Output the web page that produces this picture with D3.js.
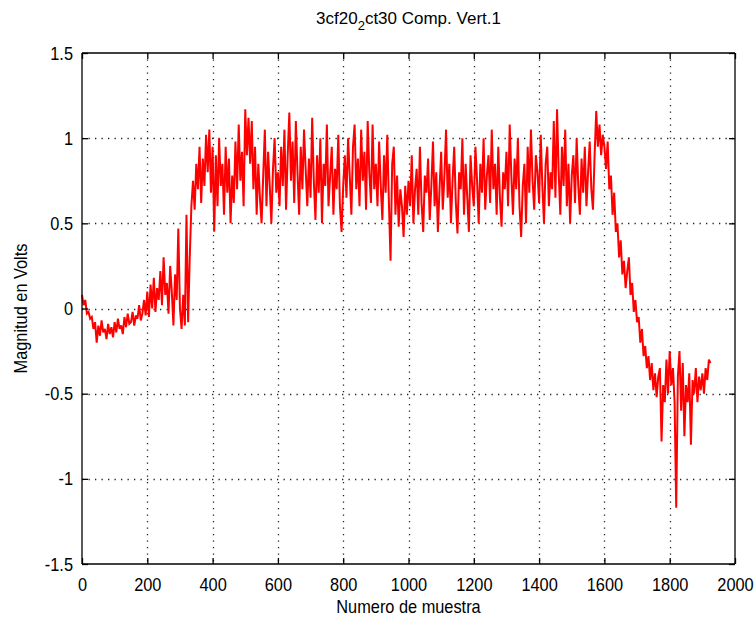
<!DOCTYPE html>
<html>
<head>
<meta charset="utf-8">
<script src="https://cdn.jsdelivr.net/npm/d3@7"></script>
<style>
html,body{margin:0;padding:0;background:#fff;}
svg{display:block;}
text{font-family:"Liberation Sans",Arial,Helvetica,sans-serif;fill:#000;}
</style>
</head>
<body>
<svg id="chart" width="755" height="618"></svg>
<script>
// ---- data (sampled every 5 samples) ----
const sampleStep = 5;
const seg0 = [0.08,0.02,0.05,-0.03,-0.02,-0.06,-0.05,-0.12,-0.08,-0.2,-0.1,-0.16,-0.07,-0.14,-0.12,-0.18,-0.09,-0.15,-0.11,-0.17];
const seg1 = [-0.08,-0.14,-0.06,-0.12,-0.1,-0.15,-0.05,-0.11,-0.03,-0.09,-0.08,-0.02,-0.1,-0.04,-0.06,0.02,-0.07,-0.03,0.05,-0.04];
const seg2 = [0.1,-0.05,0.14,0.0,0.18,-0.02,0.12,0.05,0.22,0.02,0.3,0.08,0.15,-0.03,0.25,0.1,-0.1,0.2,0.05,0.47];
const seg3 = [0.0,-0.12,0.08,-0.1,0.55,-0.08,0.3,0.6,0.75,0.58,0.85,0.7,0.95,0.62,0.88,0.72,1.02,0.8,1.05,0.68];
const seg4 = [0.95,0.45,0.9,0.6,1.0,0.72,0.85,0.55,0.95,0.68,0.88,0.5,0.78,0.62,0.98,0.7,1.08,0.75,0.92,0.6];
const seg5 = [1.17,0.9,1.12,0.85,1.1,0.7,0.95,0.55,0.85,0.65,0.5,0.78,1.05,0.6,0.92,0.72,0.5,0.82,1.0,0.68];
const seg6 = [0.8,0.6,0.95,0.72,1.05,0.58,0.9,1.15,0.75,0.98,0.62,1.1,0.8,0.55,0.95,0.7,1.05,0.82,0.6,0.88];
const seg7 = [0.65,1.12,0.75,0.52,0.9,0.68,1.0,0.5,0.85,0.72,1.08,0.6,0.78,0.95,0.55,0.82,0.7,1.02,0.6,0.45];
const seg8 = [0.72,0.9,0.65,1.0,0.78,0.55,0.95,1.08,0.7,0.88,0.6,1.05,0.75,0.92,0.58,1.1,0.8,0.62,1.08,0.7];
const seg9 = [0.85,0.6,0.98,0.72,0.52,0.9,0.68,1.02,0.62,0.28,0.85,0.95,0.55,0.78,0.48,0.7,0.6,0.42,0.72,0.55];
const seg10 = [0.75,0.6,0.9,0.5,0.7,0.82,0.55,0.95,0.62,0.45,0.78,0.68,0.88,0.52,0.72,0.98,0.6,0.8,0.45,0.7];
const seg11 = [0.92,0.58,0.78,1.05,0.65,0.85,0.5,0.75,0.95,0.62,0.44,0.8,0.7,1.0,0.55,0.85,0.65,0.45,0.9,0.72];
const seg12 = [0.6,0.95,0.75,0.5,0.85,0.68,1.0,0.58,0.78,0.9,0.62,1.05,0.7,0.85,0.55,0.95,0.65,0.48,0.8,0.7];
const seg13 = [0.92,0.6,1.08,0.78,0.55,0.88,0.7,1.0,0.6,0.42,0.72,0.85,0.5,0.95,0.68,1.05,0.75,0.58,0.9,0.8];
const seg14 = [0.62,1.02,0.72,0.5,0.85,0.95,0.6,0.8,0.7,1.1,0.65,1.17,0.8,0.55,0.95,0.72,1.05,0.6,0.85,0.5];
const seg15 = [0.78,0.9,0.62,1.0,0.72,0.55,0.88,0.68,0.95,0.6,0.8,0.98,0.7,0.58,0.9,1.16,0.95,1.08,0.9,1.02];
const seg16 = [0.95,0.82,0.98,0.7,0.78,0.55,0.68,0.45,0.5,0.3,0.4,0.2,0.28,0.12,0.22,0.3,0.08,0.15,-0.02,0.05];
const seg17 = [-0.08,-0.05,-0.2,-0.12,-0.28,-0.22,-0.35,-0.28,-0.42,-0.32,-0.48,-0.38,-0.52,-0.4,-0.35,-0.78,-0.45,-0.55,-0.3,-0.5];
const seg18 = [-0.25,-0.45,-0.35,-0.55,-1.17,-0.4,-0.25,-0.6,-0.32,-0.75,-0.45,-0.55,-0.38,-0.8,-0.42,-0.5,-0.35,-0.55,-0.4,-0.48];
const seg19 = [-0.38,-0.5,-0.35,-0.42,-0.3,-0.32];
const values = [].concat(seg0,seg1,seg2,seg3,seg4,seg5,seg6,seg7,seg8,seg9,seg10,seg11,seg12,seg13,seg14,seg15,seg16,seg17,seg18,seg19);

const xTicks = [0,200,400,600,800,1000,1200,1400,1600,1800,2000];
const yTicks = [-1.5,-1,-0.5,0,0.5,1,1.5];
const titleMain = "3cf20", titleSub = "2", titleRest = "ct30 Comp. Vert.1";
const xLabel = "Numero de muestra";
const yLabel = "Magnitud en Volts";

// ---- layout ----
const svg = d3.select("#chart");
const L = 82, T = 53, R = 735, B = 564;
const x = d3.scaleLinear().domain([0,2000]).range([L,R]);
const y = d3.scaleLinear().domain([-1.5,1.5]).range([B,T]);
const FS = 19, SX = 0.86;

function squeeze(sel){
  sel.each(function(){
    const w = this.getComputedTextLength();
    d3.select(this).attr("textLength", w*SX).attr("lengthAdjust","spacingAndGlyphs");
  });
}

// grid
const grid = svg.append("g").attr("stroke","#222").attr("stroke-width",1.3)
  .attr("stroke-dasharray","1.3,5.2").attr("fill","none");
grid.selectAll("line.v").data(xTicks.slice(1,-1)).join("line")
  .attr("x1",d=>Math.round(x(d))+0.5).attr("x2",d=>Math.round(x(d))+0.5)
  .attr("y1",T).attr("y2",B);
grid.selectAll("line.h").data(yTicks.slice(1,-1)).join("line")
  .attr("y1",d=>Math.round(y(d))+0.5).attr("y2",d=>Math.round(y(d))+0.5)
  .attr("x1",L).attr("x2",R);

// data line
const line = d3.line().x((d,i)=>x(i*sampleStep)).y(d=>y(d));
svg.append("path").datum(values).attr("d",line)
  .attr("fill","none").attr("stroke","#ff0000").attr("stroke-width",2)
  .attr("stroke-linejoin","miter").attr("stroke-miterlimit",3);

// axes (ticks inward on all sides)
const tk = 6;
const axB = svg.append("g").attr("transform",`translate(0,${B})`)
  .call(d3.axisBottom(x).tickValues(xTicks).tickSize(-tk).tickPadding(14).tickFormat(d3.format("d")));
const axT = svg.append("g").attr("transform",`translate(0,${T})`)
  .call(d3.axisTop(x).tickValues(xTicks).tickSize(-tk).tickFormat(""));
const axL = svg.append("g").attr("transform",`translate(${L},0)`)
  .call(d3.axisLeft(y).tickValues(yTicks).tickSize(-tk).tickPadding(9).tickFormat(d=>String(d)));
const axR = svg.append("g").attr("transform",`translate(${R},0)`)
  .call(d3.axisRight(y).tickValues(yTicks).tickSize(-tk).tickFormat(""));
[axB,axT,axL,axR].forEach(a=>{
  a.select(".domain").attr("stroke","#000").attr("stroke-width",1.3);
  a.selectAll(".tick line").attr("stroke","#000").attr("stroke-width",1.3);
  a.selectAll("text").attr("font-size",FS).attr("font-family",null).attr("fill","#000");
});
axB.select(".domain").attr("d",`M${L},0H${R}`);
axT.select(".domain").attr("d",`M${L},0H${R}`);
axL.select(".domain").attr("d",`M0,${T}V${B}`);
axR.select(".domain").attr("d",`M0,${T}V${B}`);
axB.selectAll("text").call(squeeze);
axL.selectAll("text").call(squeeze);

// labels
svg.append("text").attr("x",(L+R)/2).attr("y",613).attr("text-anchor","middle")
  .attr("font-size",FS).text(xLabel).call(squeeze);
svg.append("text").attr("transform",`translate(27,${(T+B)/2}) rotate(-90)`)
  .attr("text-anchor","middle").attr("font-size",FS).text(yLabel).call(squeeze);

// title with subscript
const tt = svg.append("text").attr("x",(L+R)/2).attr("y",24).attr("text-anchor","middle")
  .attr("font-size",17);
tt.append("tspan").text(titleMain);
tt.append("tspan").attr("font-size",13).attr("dy",6).text(titleSub);
tt.append("tspan").attr("dy",-6).text(titleRest);
</script>
</body>
</html>
